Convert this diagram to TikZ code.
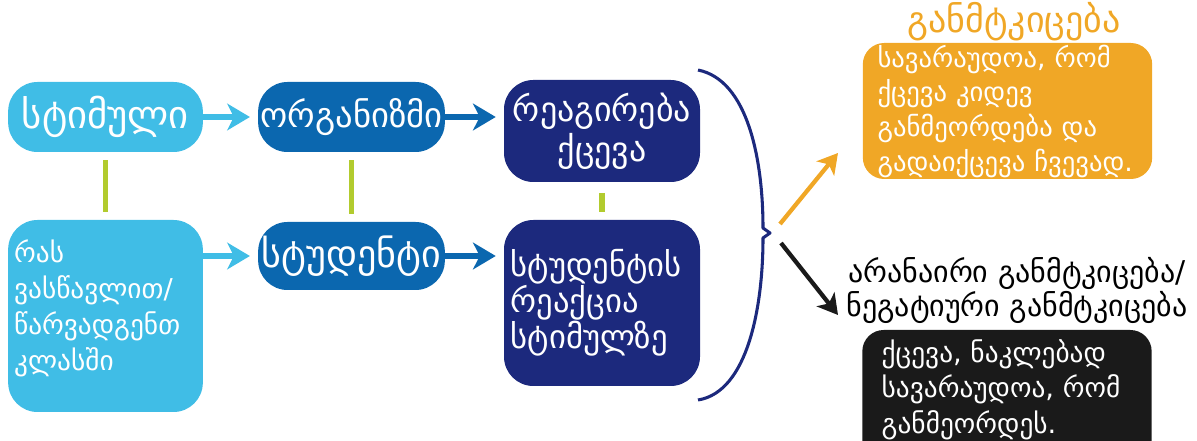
\documentclass[tikz,border=0pt]{standalone}
\usepackage{fontspec}
\setmainfont{DejaVu Sans}
\usetikzlibrary{arrows.meta}

\definecolor{sky}{RGB}{64,189,230}
\definecolor{ocean}{RGB}{11,103,175}
\definecolor{navy}{RGB}{28,41,125}
\definecolor{leaf}{RGB}{178,203,46}
\definecolor{amber}{RGB}{240,167,38}
\definecolor{ink}{RGB}{26,26,26}

\begin{document}
\begin{tikzpicture}[x=0.75pt,y=0.75pt,yscale=-1,xscale=1,
    box/.style={rounded corners=22pt, text=white, inner sep=0pt, minimum width=146pt},
    panel/.style={rounded corners=16pt, inner sep=0pt, minimum width=217pt},
    link/.style={draw=leaf, line width=3.8pt, shorten <=6pt, shorten >=6pt},
    push/.style={line width=4pt, shorten >=6pt, -{Stealth[length=17pt,width=20pt,inset=5pt]}},
    shoot/.style={line width=3.2pt, -{Stealth[length=15pt,width=17pt,inset=4pt]}}
    ]
    \useasboundingbox (0,0) rectangle (1197,441);
    \clip (0,0) rectangle (1197,441);

    %Shape: Rounded Rect [id:stim]
    \node [box, fill=sky, minimum height=52.5pt, font=\fontsize{29}{32}\selectfont] (stim) at (105.5,117) {სტიმული};
    %Shape: Rounded Rect [id:organ]
    \node [box, fill=ocean, minimum width=140pt, minimum height=52.5pt, font=\fontsize{26}{28}\selectfont] (organ) at (351.5,117) {ორგანიზმი};
    %Shape: Rounded Rect [id:react]
    \node [box, fill=navy, minimum width=147pt, minimum height=76.5pt, align=center, font=\fontsize{25.5}{30}\selectfont] (react) at (602,131) {რეაგირება\\ქცევა};
    %Shape: Rounded Rect [id:teach]
    \node [box, fill=sky, minimum height=144pt] (teach) at (105.5,316) {};
    % Text Node
    \node [text=white, text width=137pt, align=left, font=\fontsize{20.5}{27}\selectfont] (teachtext) at (105.5,308) {რას\\ვასწავლით/\\წარვადგენთ\\კლასში};
    %Shape: Rounded Rect [id:student]
    \node [box, fill=ocean, minimum width=140pt, minimum height=51pt, font=\fontsize{28.5}{30}\selectfont] (student) at (351.5,256) {სტუდენტი};
    %Shape: Rounded Rect [id:response]
    \node [box, fill=navy, minimum width=147pt, minimum height=124.5pt, text width=137pt, align=left, font=\fontsize{24.5}{27}\selectfont] (response) at (602,303) {სტუდენტის\\რეაქცია\\სტიმულზე};

    %Straight Lines
    \draw [link] (stim) -- (teach);
    \draw [link] (organ) -- (student);
    \draw [link, shorten <=8pt] (react) -- (react |- response.north);

    %Straight Lines
    \draw [push, sky] (stim.east) -- (organ.west);
    \draw [push, ocean] (organ.east) -- (react.west |- organ.east);
    \draw [push, sky] (teach.east |- student.west) -- (student.west);
    \draw [push, ocean] (student.east) -- (response.west |- student.east);

    %Shape: Brace
    \coordinate (fork) at (770,233);
    \draw [navy, line width=2.3pt, line join=round] (698,70) .. controls (748,80) and (763,160) .. (763,228) -- (fork) -- (763,238) .. controls (763,306) and (748,392) .. (698,400);

    %Straight Lines
    \coordinate (upfrom) at (780,224);
    \coordinate (upto) at (838,153);
    \coordinate (downfrom) at (781,243);
    \coordinate (downto) at (838,315);
    \draw [shoot, amber] (upfrom) -- (upto);
    \draw [shoot, ink] (downfrom) -- (downto);

    % Text Node
    \node [text=amber, font=\fontsize{27}{30}\selectfont] (gain) at (1014,22) {განმტკიცება};
    %Shape: Rounded Rect [id:likely]
    \node [panel, fill=amber, text=white, minimum height=102pt, text width=195pt, align=left, font=\fontsize{20}{26}\selectfont] (likely) at (1007.5,111) {სავარაუდოა, რომ\\ქცევა კიდევ\\განმეორდება და\\გადაიქცევა ჩვევად.};

    % Text Node
    \node [align=center, font=\fontsize{22.5}{25.5}\selectfont] (nogain) at (1017,290) {არანაირი განმტკიცება/\\ნეგატიური განმტკიცება};
    %Shape: Rounded Rect [id:unlikely]
    \node [panel, fill=ink, minimum height=105pt] (unlikely) at (1007,400) {};
    % Text Node
    \node [anchor=north west, text=white, align=left, font=\fontsize{20.5}{26.5}\selectfont] (unlikelytext) at (877,335) {ქცევა, ნაკლებად\\სავარაუდოა, რომ\\განმეორდეს.};

\end{tikzpicture}
\end{document}
